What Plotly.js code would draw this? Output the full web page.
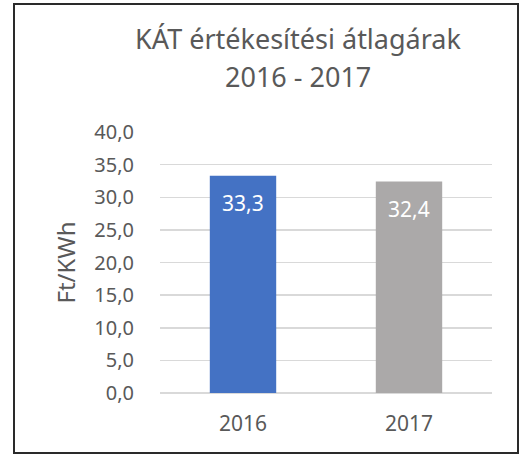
<!DOCTYPE html>
<html>
<head>
<meta charset="utf-8">
<script src="https://cdn.plot.ly/plotly-3.0.1.min.js"></script>
<style>
html,body{margin:0;padding:0;background:#fff;overflow:hidden;}
#wrap{position:relative;width:521px;height:455px;}
#chart{width:521px;height:455px;}
#frame{position:absolute;left:13px;top:3px;width:502px;height:447px;border:2px solid #2a2a2a;pointer-events:none;}
</style>
</head>
<body>
<div id="wrap"><div id="chart"></div><div id="frame"></div></div>
<script>
const categories = ['2016', '2017'];
const values = [33.3, 32.4];
const barColors = ['#4472C4', '#ABA9A9'];
const yTicks = [0, 5, 10, 15, 20, 25, 30, 35, 40];
const titleLine1 = 'KÁT értékesítési átlagárak';
const titleLine2 = '2016 - 2017';
const yTitle = 'Ft/KWh';

const font = '"Noto Sans", "Open Sans", sans-serif';
const W = 521, H = 455, M = {l: 160, r: 29, t: 132, b: 62};
const trace = {
  type: 'bar',
  x: categories,
  y: values,
  marker: {color: barColors},
  hoverinfo: 'none'
};
const labels = categories.map((c, i) => ({
  x: i, y: values[i], xref: 'x', yref: 'y',
  text: values[i].toFixed(1).replace('.', ','),
  showarrow: false, yanchor: 'middle', yshift: -27,
  font: {color: '#ffffff', size: 21, family: font}
}));
const plotW = W - M.l - M.r, plotH = H - M.t - M.b;
labels.push({
  x: (298 - M.l) / plotW, xref: 'paper', xanchor: 'center',
  y: (H - M.b - 76) / plotH, yref: 'paper', yanchor: 'middle',
  text: titleLine2, showarrow: false,
  font: {size: 27, color: '#595959', family: font}
});
const layout = {
  width: W, height: H,
  margin: M,
  separators: ', ',
  paper_bgcolor: '#ffffff', plot_bgcolor: '#ffffff',
  font: {family: font, color: '#595959', size: 20},
  showlegend: false,
  bargap: 0.6,
  annotations: labels,
  title: {text: titleLine1, font: {size: 27, color: '#595959', family: font},
          x: 298 / W, xanchor: 'center', y: 1 - 40 / H, yref: 'container', yanchor: 'middle'},
  xaxis: {type: 'category', range: [-0.5, 1.5], showgrid: false, zeroline: false, showline: false,
          ticks: 'outside', ticklen: 12, tickcolor: 'rgba(0,0,0,0)',
          tickfont: {size: 21, color: '#595959'}},
  yaxis: {range: [0, 40], tickvals: yTicks, tickformat: '.1f',
          showgrid: true, gridcolor: '#d9d9d9', gridwidth: 1.5,
          zeroline: true, zerolinecolor: '#d9d9d9', zerolinewidth: 1.5,
          showline: false, ticks: 'outside', ticklen: 21, tickcolor: 'rgba(0,0,0,0)',
          tickfont: {size: 20, color: '#595959'},
          title: {text: yTitle, standoff: 11, font: {size: 24, color: '#595959'}},
          automargin: false}
};
Plotly.newPlot('chart', [trace], layout, {staticPlot: true, displayModeBar: false});
</script>
</body>
</html>
